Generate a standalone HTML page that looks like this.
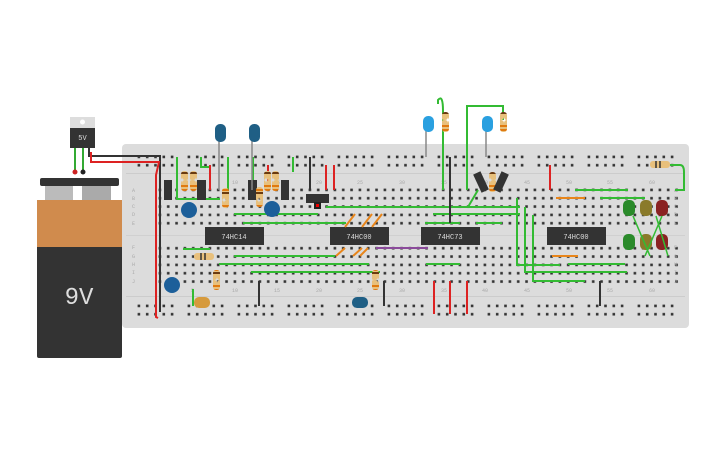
<!DOCTYPE html>
<html><head><meta charset="utf-8"><style>
html,body{margin:0;padding:0;background:#fff;width:725px;height:453px;overflow:hidden}
svg{display:block}
text{font-family:"Liberation Mono",monospace}
</style></head><body>
<svg width="725" height="453" viewBox="0 0 725 453" xmlns="http://www.w3.org/2000/svg">
<defs>
<pattern id="h" x="156" y="186" width="8.333" height="8.333" patternUnits="userSpaceOnUse"><rect x="2.6" y="2.6" width="2.6" height="2.6" fill="#333"/></pattern>
<pattern id="r" x="135" y="153" width="50" height="8.333" patternUnits="userSpaceOnUse">
<rect x="2.6" y="2.6" width="2.6" height="2.6" fill="#333"/><rect x="10.9" y="2.6" width="2.6" height="2.6" fill="#333"/><rect x="19.2" y="2.6" width="2.6" height="2.6" fill="#333"/><rect x="27.5" y="2.6" width="2.6" height="2.6" fill="#333"/><rect x="35.8" y="2.6" width="2.6" height="2.6" fill="#333"/></pattern>
<pattern id="r2" x="135" y="302" width="50" height="8.333" patternUnits="userSpaceOnUse">
<rect x="2.6" y="2.6" width="2.6" height="2.6" fill="#333"/><rect x="10.9" y="2.6" width="2.6" height="2.6" fill="#333"/><rect x="19.2" y="2.6" width="2.6" height="2.6" fill="#333"/><rect x="27.5" y="2.6" width="2.6" height="2.6" fill="#333"/><rect x="35.8" y="2.6" width="2.6" height="2.6" fill="#333"/></pattern>
<pattern id="rb" width="7" height="20" patternUnits="userSpaceOnUse"><rect width="7" height="20" rx="3" fill="#e8c07c"/><rect y="5" width="7" height="2" fill="#e07a10"/><rect y="9" width="7" height="2" fill="#e07a10"/><rect y="12" width="7" height="2" fill="#6a3a10"/></pattern>
</defs>
<rect x="122" y="144" width="567" height="184" rx="4" fill="#dcdcdc"/>
<rect x="126" y="173" width="559" height="1" fill="#ccc"/>
<rect x="126" y="296" width="559" height="1" fill="#ccc"/>
<rect x="126" y="235" width="559" height="1" fill="#d0d0d0"/>
<rect x="135" y="153" width="540" height="17" fill="url(#r)"/>
<rect x="135" y="302" width="540" height="17" fill="url(#r2)"/>
<rect x="156" y="186" width="525" height="42" fill="url(#h)"/>
<rect x="156" y="244" width="525" height="42" fill="url(#h)"/>
<g font-size="5" fill="#aaa" font-family="Liberation Sans">
<text x="132" y="192">A</text><text x="132" y="200">B</text><text x="132" y="208">C</text><text x="132" y="216">D</text><text x="132" y="225">E</text>
<text x="132" y="249">F</text><text x="132" y="258">G</text><text x="132" y="266">H</text><text x="132" y="274">I</text><text x="132" y="283">J</text>
<text x="674" y="192">A</text><text x="674" y="200">B</text><text x="674" y="208">C</text><text x="674" y="216">D</text><text x="674" y="225">E</text>
<text x="674" y="249">F</text><text x="674" y="258">G</text><text x="674" y="266">H</text><text x="674" y="274">I</text><text x="674" y="283">J</text>
<text x="191" y="184">5</text><text x="232" y="184">10</text><text x="274" y="184">15</text><text x="316" y="184">20</text><text x="357" y="184">25</text><text x="399" y="184">30</text><text x="441" y="184">35</text><text x="482" y="184">40</text><text x="524" y="184">45</text><text x="566" y="184">50</text><text x="607" y="184">55</text><text x="649" y="184">60</text>
<text x="191" y="292">5</text><text x="232" y="292">10</text><text x="274" y="292">15</text><text x="316" y="292">20</text><text x="357" y="292">25</text><text x="399" y="292">30</text><text x="441" y="292">35</text><text x="482" y="292">40</text><text x="524" y="292">45</text><text x="566" y="292">50</text><text x="607" y="292">55</text><text x="649" y="292">60</text>
</g>
<rect x="45" y="186" width="28" height="15" fill="#bbb"/><rect x="82" y="186" width="29" height="15" fill="#aaa"/>
<rect x="40" y="178" width="79" height="8" rx="2" fill="#333"/>
<rect x="37" y="200" width="85" height="158" rx="2" fill="#333"/>
<rect x="37" y="200" width="85" height="47" fill="#d08b4d"/>
<text x="79" y="304" font-size="24" fill="#ddd" text-anchor="middle" font-family="Liberation Sans">9V</text>
<rect x="70" y="117" width="25" height="12" fill="#ddd"/><circle cx="82.5" cy="122" r="2.5" fill="#fff"/>
<rect x="70" y="128" width="25" height="20" fill="#333"/>
<text x="82.5" y="140" font-size="7" fill="#ddd" text-anchor="middle" font-family="Liberation Sans">5V</text>
<path d="M75 148V172M83 148V172" stroke="#3a3" stroke-width="2"/>
<circle cx="75" cy="172" r="2.5" fill="#c22"/><circle cx="83" cy="172" r="2.5" fill="#222"/>
<path d="M89 148V156H160V312" stroke="#333" stroke-width="2" fill="none"/>
<path d="M91 152V162H159L156 175V317L158 318" stroke="#d22" stroke-width="2" fill="none"/>
<rect x="205" y="227" width="59" height="18" fill="#333"/><text x="234" y="239" font-size="7" fill="#ddd" text-anchor="middle">74HC14</text>
<rect x="330" y="227" width="59" height="18" fill="#333"/><text x="359" y="239" font-size="7" fill="#ddd" text-anchor="middle">74HC00</text>
<rect x="421" y="227" width="59" height="18" fill="#333"/><text x="450" y="239" font-size="7" fill="#ddd" text-anchor="middle">74HC73</text>
<rect x="547" y="227" width="59" height="18" fill="#333"/><text x="576" y="239" font-size="7" fill="#ddd" text-anchor="middle">74HC00</text>
<g stroke="#3b3" stroke-width="2" fill="none">
<path d="M177 157V199H220"/><path d="M201 157V167H210V190"/><path d="M228 157V199"/>
<path d="M234 214H318"/><path d="M243 223H346"/><path d="M253 157V199"/><path d="M293 157V172"/>
<path d="M183 249H210"/><path d="M234 256H335"/><path d="M219 264H369"/><path d="M251 272H380"/>
<path d="M193 289V306"/>
<path d="M326 207H520"/>
<path d="M443 190V111Q443 94 438 100V104"/>
<path d="M467 190V106H503V120"/>
<path d="M425 223H460"/><path d="M476 223H502"/><path d="M426 264H460"/><path d="M433 214H520"/>
<path d="M517 198V265H560"/><path d="M525 207V272H580"/><path d="M533 215V281H585"/>
<path d="M575 190H628"/><path d="M600 198H645"/><path d="M568 264H625"/><path d="M568 272H627"/>
<path d="M670 165H680Q684 165 684 172V190H675"/>
<path d="M468 207L478 190"/>
</g>
<g stroke-width="2" fill="none">
<path d="M556 198H585M552 256H578" stroke="#e8851a"/>
<path d="M376 248H428" stroke="#8a4a9a"/>
<path d="M345 227L355 214M362 227L372 214M372 227L382 214M336 256L345 248M353 256L362 248M360 256L368 248" stroke="#e8851a"/>
</g>
<g stroke-width="2">
<path d="M210 165V190M268 165V181M326 165V190M334 165V190M550 165V190M434 281V314M450 281V314M467 281V314" stroke="#d22"/>
<path d="M310 157V190M259 281V306M384 281V306M450 157V223M600 281V306" stroke="#333"/>
</g>
<rect x="164" y="180" width="8" height="20" fill="#333"/><rect x="281" y="180" width="8" height="20" fill="#333"/>
<rect x="306" y="194" width="23" height="9" fill="#333"/><rect x="314" y="202" width="7" height="7" fill="#222"/><rect x="316" y="204" width="3" height="3" fill="#e00"/>
<rect x="197" y="180" width="9" height="20" fill="#333"/><rect x="248" y="180" width="9" height="20" fill="#333"/>
<g fill="url(#rb)">
<rect x="181" y="171" width="7" height="20" rx="3" transform="translate(0 0)"/><rect x="190" y="171" width="7" height="20" rx="3"/>
<rect x="222" y="188" width="7" height="20" rx="3"/><rect x="264" y="171" width="7" height="20" rx="3"/>
<rect x="272" y="171" width="7" height="20" rx="3"/><rect x="256" y="187" width="7" height="20" rx="3"/>
<rect x="213" y="270" width="7" height="20" rx="3"/><rect x="372" y="270" width="7" height="20" rx="3"/>
<rect x="442" y="112" width="7" height="20" rx="3"/><rect x="500" y="112" width="7" height="20" rx="3"/>
<rect x="489" y="172" width="7" height="20" rx="3"/>
</g>
<rect x="194" y="253" width="20" height="7" rx="3" fill="#e8c07c"/><rect x="650" y="161" width="20" height="7" rx="3" fill="#e8c07c"/>
<path d="M201 253v7M205 253v7M656 161v7M660 161v7" stroke="#333" stroke-width="1.5"/>
<g fill="#1c5f9a">
<circle cx="189" cy="210" r="8"/><circle cx="272" cy="209" r="8"/><circle cx="172" cy="285" r="8"/>
</g>
<rect x="194" y="297" width="16" height="11" rx="5" fill="#d69a3c"/><rect x="352" y="297" width="16" height="11" rx="5" fill="#1f5f85"/>
<g fill="#333"><rect x="477" y="172" width="8" height="20" transform="rotate(-25 481 182)"/><rect x="497" y="172" width="8" height="20" transform="rotate(25 501 182)"/></g>
<g stroke="#888" stroke-width="1.5"><path d="M219 140V190M252 140V190M426 130V157M486 130V157"/></g>
<rect x="215" y="124" width="11" height="18" rx="5" fill="#1f5f85"/><rect x="249" y="124" width="11" height="18" rx="5" fill="#1f5f85"/>
<rect x="423" y="116" width="11" height="16" rx="5" fill="#2aa0e0"/><rect x="482" y="116" width="11" height="16" rx="5" fill="#2aa0e0"/>
<rect x="623" y="200" width="12" height="16" rx="5" fill="#2a8a2a"/><rect x="640" y="200" width="12" height="16" rx="5" fill="#8a7a2a"/><rect x="656" y="200" width="12" height="16" rx="5" fill="#8a2222"/>
<rect x="623" y="234" width="12" height="16" rx="5" fill="#2a8a2a"/><rect x="640" y="234" width="12" height="16" rx="5" fill="#8a7a2a"/><rect x="656" y="234" width="12" height="16" rx="5" fill="#8a2222"/>
<g stroke="#3b3" stroke-width="1.5"><path d="M633 216L650 256M662 216L645 256M656 216L668 256"/></g>
</svg>
</body></html>
